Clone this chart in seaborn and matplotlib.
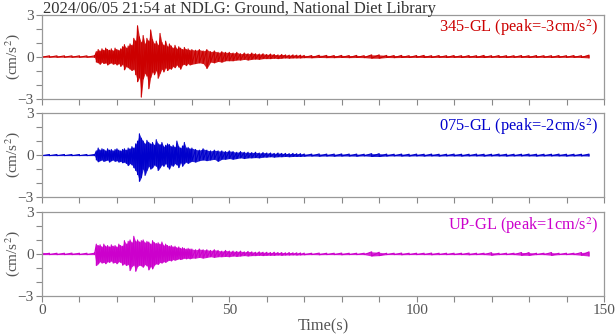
import numpy as np
import matplotlib
matplotlib.use("Agg")
import matplotlib.pyplot as plt
import seaborn as sns
from matplotlib.ticker import MultipleLocator

# sample times (s): sparse before onset, dense in the strong motion, sparse in the coda
t_pre = [0, 2, 4, 6, 8, 10, 12]
t_strong = list(np.arange(14.0, 40.0, 0.5))      # 52 samples
t_mid = list(range(40, 70))                       # 30 samples
t_tail = list(range(70, 148, 2))                  # 39 samples
t = np.array(t_pre + t_strong + t_mid + t_tail, dtype=float)

# 345-GL (red) peaks / troughs, cm/s^2
ns_up = [0.05, 0.05, 0.05, 0.05, 0.05, 0.05, 0.05,
         0.05, 0.35, 0.5, 0.4, 0.55, 0.45, 0.6, 0.5, 0.45, 0.55,
         0.4, 0.6, 0.5, 0.45, 0.55, 0.7, 0.85, 0.6, 0.75, 0.9,
         0.8, 1.3, 1.1, 2.2, 1.4, 1.0, 1.5, 0.9, 1.3, 1.1,
         1.9, 1.2, 0.9, 1.1, 0.8, 1.65, 1.0, 0.8, 1.1, 0.7,
         0.9, 0.75, 0.6, 0.8, 0.55, 0.7, 0.6, 0.5, 0.65, 0.5,
         0.55, 0.45,
         0.5, 0.45, 0.5, 0.4, 0.5, 0.35, 0.4, 0.3, 0.35, 0.3,
         0.3, 0.25, 0.3, 0.2, 0.25, 0.2, 0.25, 0.2, 0.18, 0.2,
         0.15, 0.18, 0.15, 0.12, 0.15, 0.12, 0.1, 0.12, 0.1, 0.1,
         0.08, 0.07, 0.09, 0.08, 0.07, 0.08, 0.07, 0.08, 0.06, 0.12,
         0.12, 0.08, 0.07, 0.08, 0.06, 0.07, 0.08, 0.06, 0.07, 0.06,
         0.07, 0.06, 0.07, 0.06, 0.08, 0.06, 0.07, 0.06, 0.06, 0.07,
         0.06, 0.07, 0.06, 0.06, 0.07, 0.06, 0.07, 0.06, 0.1]
ns_lo = [-0.05, -0.05, -0.05, -0.05, -0.05, -0.05, -0.05,
         -0.05, -0.4, -0.45, -0.55, -0.4, -0.5, -0.45, -0.6, -0.5, -0.45,
         -0.55, -0.5, -0.6, -0.5, -0.7, -0.55, -0.95, -0.7, -0.8, -0.9,
         -1.0, -0.9, -1.3, -1.8, -1.5, -2.9, -1.6, -1.2, -1.4, -2.3,
         -1.5, -1.1, -1.3, -1.0, -1.55, -1.2, -0.9, -1.1, -0.8, -1.0,
         -0.85, -0.9, -0.7, -0.8, -0.6, -0.75, -0.9, -0.6, -0.55, -0.65,
         -0.5, -0.6,
         -0.55, -0.5, -0.45, -0.5, -0.85, -0.4, -0.45, -0.35, -0.4, -0.3,
         -0.3, -0.3, -0.25, -0.25, -0.2, -0.25, -0.2, -0.18, -0.2, -0.15,
         -0.15, -0.15, -0.12, -0.15, -0.12, -0.1, -0.12, -0.1, -0.1, -0.1,
         -0.08, -0.09, -0.07, -0.08, -0.08, -0.07, -0.08, -0.07, -0.08, -0.12,
         -0.12, -0.07, -0.08, -0.07, -0.07, -0.06, -0.07, -0.07, -0.06, -0.07,
         -0.06, -0.07, -0.06, -0.07, -0.07, -0.06, -0.06, -0.07, -0.06, -0.06,
         -0.07, -0.06, -0.06, -0.07, -0.06, -0.06, -0.06, -0.07, -0.1]

# 075-GL (blue)
ew_up = [0.04, 0.04, 0.04, 0.04, 0.04, 0.04, 0.04,
         0.04, 0.3, 0.5, 0.35, 0.45, 0.4, 0.3, 0.45, 0.35, 0.4,
         0.3, 0.4, 0.45, 0.35, 0.3, 0.4, 0.45, 0.35, 0.5, 0.45,
         0.6, 0.5, 0.8, 1.0, 1.52, 1.2, 1.0, 0.8, 1.05, 0.9,
         0.8, 0.9, 0.7, 1.1, 0.8, 0.75, 0.9, 0.6, 0.7, 0.8,
         0.75, 0.6, 0.7, 0.55, 1.0, 0.6, 0.5, 0.65, 0.9, 0.5,
         0.55, 0.45,
         0.5, 0.4, 0.35, 0.45, 0.35, 0.3, 0.35, 0.3, 0.3, 0.25,
         0.3, 0.25, 0.2, 0.25, 0.2, 0.2, 0.18, 0.2, 0.15, 0.18,
         0.15, 0.15, 0.12, 0.15, 0.12, 0.12, 0.1, 0.12, 0.1, 0.1,
         0.08, 0.07, 0.08, 0.07, 0.07, 0.08, 0.07, 0.07, 0.06, 0.1,
         0.1, 0.07, 0.06, 0.07, 0.06, 0.07, 0.06, 0.07, 0.06, 0.06,
         0.07, 0.06, 0.06, 0.07, 0.06, 0.06, 0.07, 0.06, 0.06, 0.06,
         0.07, 0.06, 0.06, 0.06, 0.07, 0.06, 0.06, 0.06, 0.07]
ew_lo = [-0.04, -0.04, -0.04, -0.04, -0.04, -0.04, -0.04,
         -0.04, -0.35, -0.48, -0.4, -0.35, -0.45, -0.4, -0.35, -0.5, -0.4,
         -0.35, -0.45, -0.4, -0.5, -0.45, -0.55, -0.5, -0.6, -0.75, -0.6,
         -0.7, -0.9, -1.1, -1.4, -1.88, -1.6, -1.0, -1.45, -1.1, -0.8,
         -1.0, -0.9, -0.7, -0.8, -1.1, -0.9, -0.7, -0.8, -0.6, -0.85,
         -1.0, -0.7, -0.8, -0.6, -0.7, -0.9, -0.55, -0.8, -0.6, -0.5,
         -0.6, -0.5,
         -0.45, -0.5, -0.4, -0.35, -0.4, -0.35, -0.3, -0.45, -0.3, -0.3,
         -0.25, -0.3, -0.25, -0.2, -0.25, -0.2, -0.2, -0.18, -0.2, -0.15,
         -0.15, -0.12, -0.15, -0.12, -0.12, -0.1, -0.12, -0.1, -0.1, -0.1,
         -0.08, -0.07, -0.08, -0.07, -0.08, -0.07, -0.07, -0.08, -0.06, -0.1,
         -0.1, -0.07, -0.06, -0.07, -0.07, -0.06, -0.07, -0.06, -0.07, -0.06,
         -0.06, -0.07, -0.06, -0.06, -0.07, -0.06, -0.06, -0.07, -0.06, -0.06,
         -0.06, -0.07, -0.06, -0.06, -0.06, -0.07, -0.06, -0.06, -0.07]

# UP-GL (magenta)
ud_up = [0.12, 0.05, 0.05, 0.05, 0.06, 0.05, 0.05,
         0.05, 0.7, 0.6, 0.65, 0.5, 0.7, 0.55, 0.6, 0.5, 0.65,
         0.55, 0.6, 0.5, 0.7, 0.6, 0.55, 0.95, 0.7, 0.9, 1.0,
         0.8, 1.26, 0.9, 1.0, 0.85, 0.95, 1.0, 0.8, 0.9, 0.85,
         0.7, 0.95, 0.8, 0.75, 0.8, 0.7, 0.85, 0.6, 0.7, 0.6,
         0.55, 0.6, 0.5, 0.55, 0.45, 0.5, 0.4, 0.45, 0.4, 0.35,
         0.4, 0.35,
         0.35, 0.3, 0.35, 0.3, 0.3, 0.25, 0.3, 0.25, 0.2, 0.25,
         0.2, 0.2, 0.18, 0.2, 0.15, 0.18, 0.15, 0.12, 0.15, 0.12,
         0.12, 0.1, 0.12, 0.1, 0.1, 0.08, 0.1, 0.08, 0.08, 0.07,
         0.06, 0.05, 0.06, 0.05, 0.05, 0.06, 0.05, 0.05, 0.05, 0.15,
         0.12, 0.05, 0.05, 0.06, 0.05, 0.05, 0.05, 0.06, 0.05, 0.05,
         0.05, 0.05, 0.06, 0.05, 0.05, 0.09, 0.05, 0.05, 0.05, 0.1,
         0.1, 0.05, 0.05, 0.1, 0.05, 0.05, 0.05, 0.1, 0.15]
ud_lo = [-0.05, -0.05, -0.05, -0.05, -0.05, -0.05, -0.05,
         -0.05, -0.83, -0.7, -0.55, -0.65, -0.6, -0.7, -0.55, -0.6, -0.5,
         -0.65, -0.6, -0.7, -0.55, -0.6, -0.8, -0.7, -0.83, -0.75, -1.19,
         -0.9, -0.8, -1.24, -0.9, -0.8, -0.85, -0.95, -0.75, -0.85, -1.14,
         -0.9, -1.07, -0.8, -0.7, -0.75, -0.6, -0.65, -0.55, -0.6, -0.5,
         -0.45, -0.5, -0.4, -0.45, -0.4, -0.35, -0.4, -0.35, -0.3, -0.35,
         -0.3, -0.35,
         -0.3, -0.3, -0.25, -0.3, -0.25, -0.2, -0.25, -0.2, -0.2, -0.18,
         -0.2, -0.15, -0.18, -0.15, -0.12, -0.15, -0.12, -0.12, -0.1, -0.12,
         -0.1, -0.1, -0.1, -0.08, -0.1, -0.08, -0.08, -0.07, -0.08, -0.07,
         -0.06, -0.05, -0.06, -0.05, -0.05, -0.06, -0.05, -0.05, -0.05, -0.15,
         -0.12, -0.05, -0.05, -0.06, -0.05, -0.05, -0.05, -0.06, -0.05, -0.05,
         -0.05, -0.05, -0.06, -0.05, -0.05, -0.09, -0.05, -0.05, -0.05, -0.1,
         -0.1, -0.05, -0.05, -0.1, -0.05, -0.05, -0.05, -0.1, -0.15]

names = ["345-GL (peak=-3cm/s$^2$)", "075-GL (peak=-2cm/s$^2$)", "UP-GL (peak=1cm/s$^2$)"]
colors = ["#cc0000", "#0000cc", "#cc00cc"]
traces = [(ns_up, ns_lo), (ew_up, ew_lo), (ud_up, ud_lo)]
title = "2024/06/05 21:54 at NDLG: Ground, National Diet Library"

sns.set_style("ticks")
plt.rcParams["font.family"] = ["Liberation Serif", "DejaVu Serif"]
plt.rcParams["mathtext.fontset"] = "stix"
grey = "#555555"

fig = plt.figure(figsize=(6.16, 3.34), dpi=100)
bottoms = [0.705, 0.41, 0.114]
for i, (up, lo) in enumerate(traces):
    ax = fig.add_axes([0.0682, bottoms[i], 0.9123, 0.2515])
    up = np.array(up); lo = np.array(lo)
    # solid body of the trace between peaks and troughs
    ax.fill_between(t, lo, up, color=colors[i], lw=0, alpha=0.85)
    # zigzag through the peaks and troughs for the spiky edges
    xs = np.repeat(t, 2)
    ys = np.column_stack([up, lo]).ravel()
    sns.lineplot(x=xs, y=ys, sort=False, estimator=None, color=colors[i],
                 lw=0.8, ax=ax)
    ax.set_xlim(0, 150)
    ax.set_ylim(-3, 3)
    ax.xaxis.set_major_locator(MultipleLocator(50))
    ax.xaxis.set_minor_locator(MultipleLocator(10))
    ax.yaxis.set_major_locator(MultipleLocator(3))
    ax.yaxis.set_minor_locator(MultipleLocator(1))
    ax.tick_params(which="both", direction="out", length=4, width=0.8,
                   color="#888888", labelcolor=grey, labelsize=11, pad=2)
    for s in ax.spines.values():
        s.set_color("#999999")
        s.set_linewidth(0.9)
    ax.set_ylabel("(cm/s$^2$)", color=grey, fontsize=11)
    ax.yaxis.set_label_coords(-0.036, 0.5)
    ax.text(0.99, 0.96, names[i], transform=ax.transAxes, ha="right", va="top",
            color=colors[i], fontsize=11.8)
    if i < 2:
        ax.set_xticklabels([])
    else:
        ax.set_xlabel("Time(s)", color=grey, fontsize=11.8, labelpad=1)

fig.text(0.07, 0.998, title, ha="left", va="top", color="#333333", fontsize=11.9)
fig.savefig("out.png", dpi=100)
